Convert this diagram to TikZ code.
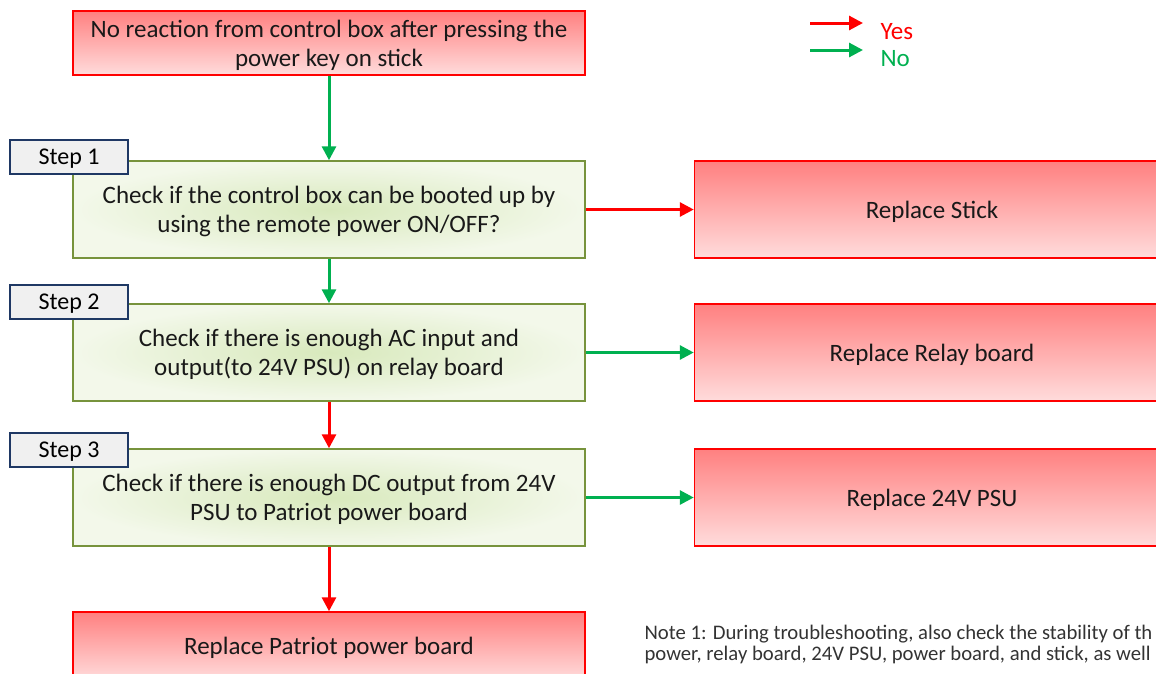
\documentclass[tikz,border=0pt]{standalone}
\usepackage{fontspec}
\setmainfont{Carlito}
\usetikzlibrary{arrows.meta}
\definecolor{yesred}{HTML}{FF0000}
\definecolor{nogreen}{HTML}{00B050}
\definecolor{chkgreen}{HTML}{77933C}
\definecolor{stepnavy}{HTML}{1F3864}
\definecolor{notegray}{HTML}{333333}

\begin{document}
\begin{tikzpicture}[x=1pt,y=-1pt,
  txt/.style={align=center,font=\fontsize{25}{29}\selectfont,text=black!90,text depth=0pt},
  fixbox/.style={txt,draw=yesred,line width=1.5pt,top color={rgb,255:red,255;green,128;blue,128},bottom color={rgb,255:red,255;green,220;blue,220},minimum width=512pt},
  chkbox/.style={txt,draw=chkgreen,line width=1.5pt,inner color={rgb,255:red,216;green,233;blue,188},outer color={rgb,255:red,243;green,248;blue,234},minimum width=512pt,minimum height=97pt},
  stepbox/.style={draw=stepnavy,line width=1.5pt,fill=black!6,minimum width=118pt,minimum height=34pt,text depth=0pt,font=\fontsize{24}{26}\selectfont},
  yes/.style={draw=yesred,line width=3pt,-{Triangle[length=14pt,width=14pt]}},
  no/.style={draw=nogreen,line width=3pt,-{Triangle[length=14pt,width=14pt]}}]
  \clip (0,0) rectangle (1156,673);
  % left column
  \node[fixbox,minimum height=64pt] (start) at (329,43) {No reaction from control box after pressing the\\power key on stick};
  \node[chkbox] (chk1) at (329,209.5) {Check if the control box can be booted up by\\using the remote power ON/OFF?};
  \node[chkbox] (chk2) at (329,352.5) {Check if there is enough AC input and\\output(to 24V PSU) on relay board};
  \node[chkbox] (chk3) at (329,497.5) {Check if there is enough DC output from 24V\\PSU to Patriot power board};
  \node[fixbox,minimum height=68pt] (patriot) at (329,646) {Replace Patriot power board};
  % right column
  \node[fixbox,minimum width=475pt,minimum height=97pt] (stick) at (932,209.5) {Replace Stick};
  \node[fixbox,minimum width=475pt,minimum height=97pt] (relay) at (932,352.5) {Replace Relay board};
  \node[fixbox,minimum width=475pt,minimum height=97pt] (psu) at (932,497.5) {Replace 24V PSU};
  % step tags
  \node[stepbox] (step1) at (69,157) {Step 1};
  \node[stepbox] (step2) at (69,302) {Step 2};
  \node[stepbox] (step3) at (69,450) {Step 3};
  % flow
  \draw[no] (start) -- (chk1);
  \draw[no] (chk1) -- (chk2);
  \draw[yes] (chk2) -- (chk3);
  \draw[yes] (chk3) -- (patriot);
  \draw[yes] (chk1) -- (stick);
  \draw[no] (chk2) -- (relay);
  \draw[no] (chk3) -- (psu);
  % legend
  \coordinate (yesa) at (810,23); \coordinate (yesb) at (863,23);
  \coordinate (noa) at (810,50); \coordinate (nob) at (863,50);
  \draw[yes] (yesa) -- (yesb);
  \draw[no] (noa) -- (nob);
  \node[anchor=west,text=yesred,font=\fontsize{25}{27}\selectfont] (yeslbl) at (877,32) {Yes};
  \node[anchor=west,text=nogreen,font=\fontsize{25}{27}\selectfont] (nolbl) at (877,59) {No};
  % note
  \node[anchor=west,align=left,text=notegray,font=\fontsize{20.7}{21}\selectfont] (note) at (641,644.5) {Note 1: During troubleshooting, also check the stability of th\\power, relay board, 24V PSU, power board, and stick, as well};
\end{tikzpicture}
\end{document}
